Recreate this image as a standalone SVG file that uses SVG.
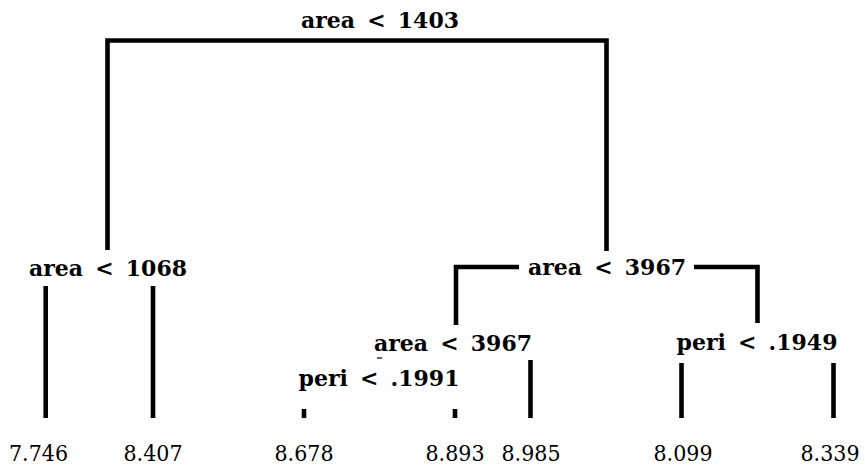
<svg xmlns="http://www.w3.org/2000/svg" width="865" height="468" viewBox="0 0 865 468">
<style>
.lbl{font-family:"DejaVu Serif",serif;font-weight:bold;font-size:22px;word-spacing:4.5px;fill:#000;text-anchor:middle}
.leaf{font-family:"DejaVu Serif",serif;font-size:23px;fill:#000;text-anchor:middle}
.edge{fill:none;stroke:#000;stroke-width:4.6;stroke-linecap:butt;stroke-linejoin:miter}
</style>
<rect width="865" height="468" fill="#fff"/>
<g id="connectors">
<path class="edge" d="M107.5 250 V40.5 H606.5 V251"/>
<path class="edge" d="M45.7 286 V418"/>
<path class="edge" d="M153 286 V418"/>
<path class="edge" d="M519 267 H456 V325"/>
<path class="edge" d="M694 267 H757.5 V323"/>
<path class="edge" d="M530.5 360 V418"/>
<path class="edge" d="M304 409 V418"/>
<path class="edge" d="M455 409 V418"/>
<path class="edge" d="M681.5 363 V418"/>
<path class="edge" d="M833.5 363 V418"/>
<path d="M377 358 H382" stroke="#000" stroke-width="1.2" fill="none"/>
</g>
<g id="n_area1403"><text class="lbl" x="380" y="28">area &lt; 1403</text></g>
<g id="n_area1068"><text class="lbl" x="108" y="276">area &lt; 1068</text></g>
<g id="n_area3967a"><text class="lbl" x="607" y="275">area &lt; 3967</text></g>
<g id="n_area3967b"><text class="lbl" x="453" y="351">area &lt; 3967</text></g>
<g id="n_peri1991"><text class="lbl" x="379" y="386">peri &lt; .1991</text></g>
<g id="n_peri1949"><text class="lbl" x="757" y="350">peri &lt; .1949</text></g>
<g id="leaf1"><text class="leaf" x="38.5" y="461" textLength="59" lengthAdjust="spacingAndGlyphs">7.746</text></g>
<g id="leaf2"><text class="leaf" x="153" y="461" textLength="59" lengthAdjust="spacingAndGlyphs">8.407</text></g>
<g id="leaf3"><text class="leaf" x="304" y="461" textLength="59" lengthAdjust="spacingAndGlyphs">8.678</text></g>
<g id="leaf4"><text class="leaf" x="455" y="461" textLength="59" lengthAdjust="spacingAndGlyphs">8.893</text></g>
<g id="leaf5"><text class="leaf" x="531" y="461" textLength="59" lengthAdjust="spacingAndGlyphs">8.985</text></g>
<g id="leaf6"><text class="leaf" x="683" y="461" textLength="59" lengthAdjust="spacingAndGlyphs">8.099</text></g>
<g id="leaf7"><text class="leaf" x="830" y="461" textLength="59" lengthAdjust="spacingAndGlyphs">8.339</text></g>
</svg>
